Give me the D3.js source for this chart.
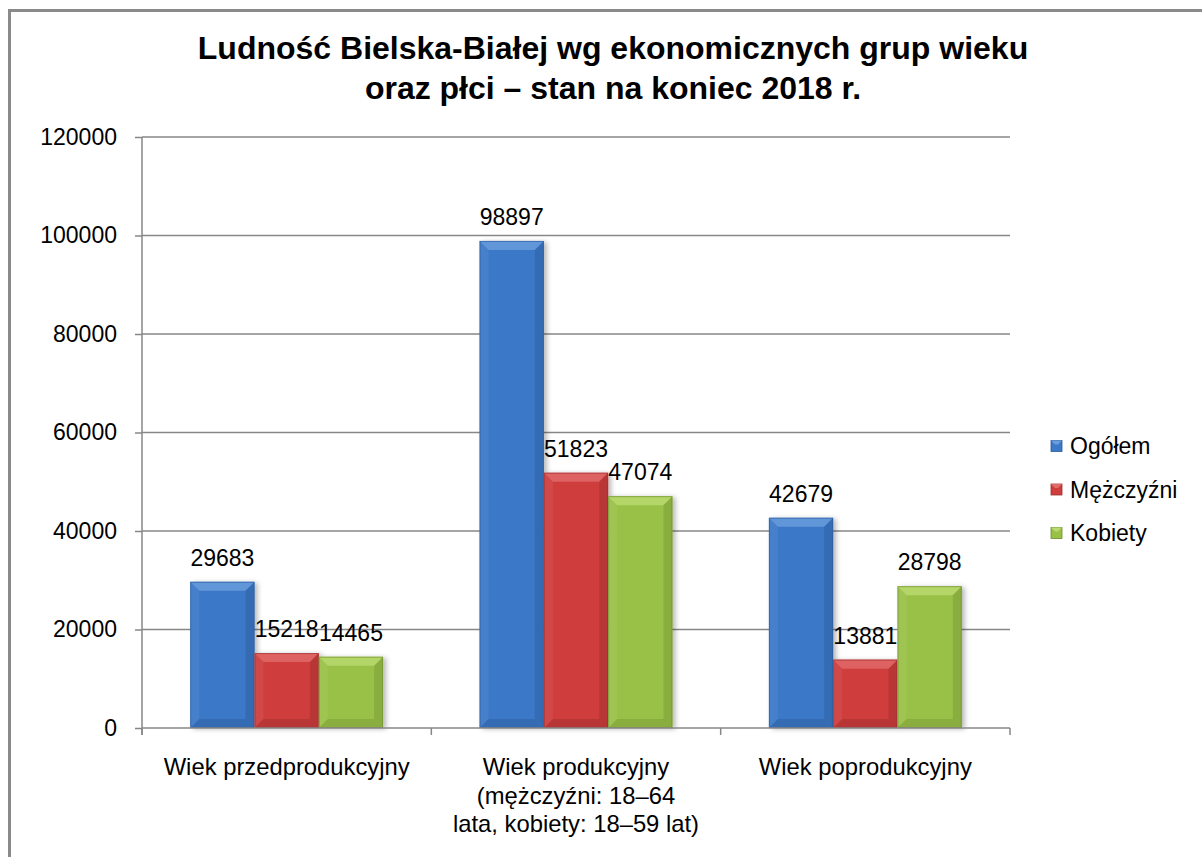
<!DOCTYPE html>
<html><head><meta charset="utf-8">
<script src="https://cdn.jsdelivr.net/npm/d3@7/dist/d3.min.js"></script>
<style>body{margin:0;background:#fff}svg{display:block}text{font-family:Arial,"Liberation Sans",sans-serif;fill:#000}</style>
</head><body><svg id="c" width="1202" height="857"></svg>
<script>
const categories = [["Wiek przedprodukcyjny"], ["Wiek produkcyjny", "(mężczyźni: 18–64", "lata, kobiety: 18–59 lat)"], ["Wiek poprodukcyjny"]];
const seriesNames = ["Ogółem", "Mężczyźni", "Kobiety"];
const ogolem = [29683, 98897, 42679];
const mezczyzni = [15218, 51823, 13881];
const kobiety = [14465, 47074, 28798];
const yTicks = [0, 20000, 40000, 60000, 80000, 100000, 120000];
const titleLines = ["Ludność Bielska-Białej wg ekonomicznych grup wieku", "oraz płci – stan na koniec 2018 r."];

const colors = [
  {main:"#3b78c7", light:"#6b9ddd", dark:"#2a5a9a"},
  {main:"#cf3e3c", light:"#e06c6a", dark:"#993030"},
  {main:"#99c146", light:"#bad970", dark:"#6d8c2e"}
];
const series = [ogolem, mezczyzni, kobiety];

const svg = d3.select("#c");
const defs = svg.append("defs");
const f = defs.append("filter").attr("id","sh").attr("x","-20%").attr("y","-5%").attr("width","150%").attr("height","115%");
f.append("feDropShadow").attr("dx",3).attr("dy",1).attr("stdDeviation",2.5).attr("flood-color","#000").attr("flood-opacity",0.28);

// outer border
svg.append("rect").attr("x",9.5).attr("y",10.5).attr("width",1300).attr("height",900)
  .attr("fill","none").attr("stroke","#8a8a8a").attr("stroke-width",3);

const pL=142, pR=1010, pT=137, pB=728;
const y = d3.scaleLinear().domain([0,120000]).range([pB,pT]);
const x0 = d3.scaleBand().domain(d3.range(categories.length)).range([pL,pR]).paddingInner(0).paddingOuter(0);
const bw = x0.bandwidth()/4.5;
const x1 = d3.scaleBand().domain(d3.range(series.length)).range([0.75*bw, x0.bandwidth()-0.75*bw]).padding(0);

// gridlines
svg.append("g").selectAll("line").data(yTicks.filter(d=>d>0)).join("line")
  .attr("x1",pL).attr("x2",pR).attr("y1",d=>y(d)).attr("y2",d=>y(d))
  .attr("stroke","#878787").attr("stroke-width",1.5);

// y axis
const yAxis = svg.append("g").attr("transform",`translate(${pL},0)`)
  .call(d3.axisLeft(y).tickValues(yTicks).tickSize(7).tickPadding(18).tickFormat(d3.format("d")));
yAxis.select(".domain").remove();
yAxis.selectAll(".tick line").attr("stroke","#878787").attr("stroke-width",1.5);
yAxis.selectAll(".tick text").attr("font-size",23).attr("font-family","Arial, 'Liberation Sans', sans-serif").attr("fill","#000");
svg.append("line").attr("x1",pL).attr("x2",pL).attr("y1",pT).attr("y2",pB+7).attr("stroke","#878787").attr("stroke-width",1.5);

// bars
const gBars = svg.append("g");
series.forEach((vals,si)=>{
  vals.forEach((v,ci)=>{
    const bx = x0(ci)+x1(si), w = x1.bandwidth(), by = y(v), h = pB-by;
    const c = colors[si], b = 9;
    const g = gBars.append("g").attr("filter","url(#sh)");
    g.append("rect").attr("x",bx).attr("y",by).attr("width",w).attr("height",h).attr("fill",c.main);
    const fg = gBars.append("g");
    fg.append("polygon").attr("points",[[bx,by],[bx+w,by],[bx+w-b,by+b],[bx+b,by+b]].join(" ")).attr("fill",c.light).attr("opacity",0.8);
    fg.append("polygon").attr("points",[[bx,by],[bx+b,by+b],[bx+b,by+h-b],[bx,by+h]].join(" ")).attr("fill","#fff").attr("opacity",0.06);
    fg.append("polygon").attr("points",[[bx+w,by],[bx+w,by+h],[bx+w-b,by+h-b],[bx+w-b,by+b]].join(" ")).attr("fill","#000").attr("opacity",0.1);
    fg.append("polygon").attr("points",[[bx,by+h],[bx+b,by+h-b],[bx+w-b,by+h-b],[bx+w,by+h]].join(" ")).attr("fill","#000").attr("opacity",0.1);
    fg.append("rect").attr("x",bx+0.5).attr("y",by+0.5).attr("width",w-1).attr("height",h-1).attr("fill","none").attr("stroke",c.dark).attr("stroke-opacity",0.6).attr("stroke-width",1);
    svg.append("text").attr("x",bx+w/2).attr("y",by-16).attr("text-anchor","middle").attr("font-size",23).text(v);
  });
});

// x axis
svg.append("line").attr("x1",pL).attr("x2",pR).attr("y1",pB).attr("y2",pB).attr("stroke","#878787").attr("stroke-width",1.5);
const bounds = d3.range(categories.length+1).map(i=> i<categories.length ? x0(i) : pR);
svg.append("g").selectAll("line").data(bounds).join("line")
  .attr("x1",d=>d).attr("x2",d=>d).attr("y1",pB).attr("y2",pB+7).attr("stroke","#878787").attr("stroke-width",1.5);
categories.forEach((lines,ci)=>{
  const t = svg.append("text").attr("x",x0(ci)+x0.bandwidth()/2).attr("y",775).attr("text-anchor","middle").attr("font-size",23.8);
  lines.forEach((l,li)=>t.append("tspan").attr("x",x0(ci)+x0.bandwidth()/2).attr("dy",li?28.5:0).text(l));
});

// title
titleLines.forEach((l,i)=>svg.append("text").attr("x",613).attr("y",59+i*40).attr("text-anchor","middle").attr("font-size",32).attr("font-weight","bold").text(l));

// legend
seriesNames.forEach((n,i)=>{
  const cy = 446 + i*43.5;
  const c = colors[i];
  svg.append("rect").attr("x",1051).attr("y",cy-5.5).attr("width",11).attr("height",11).attr("fill",c.main).attr("stroke",c.dark).attr("stroke-width",0.8);
  svg.append("polygon").attr("points",[[1051,cy-5.5],[1062,cy-5.5],[1058,cy-1.5],[1055,cy-1.5]].join(" ")).attr("fill",c.light);
  svg.append("text").attr("x",1070).attr("y",cy+8).attr("font-size",23).text(n);
});
</script></body></html>
